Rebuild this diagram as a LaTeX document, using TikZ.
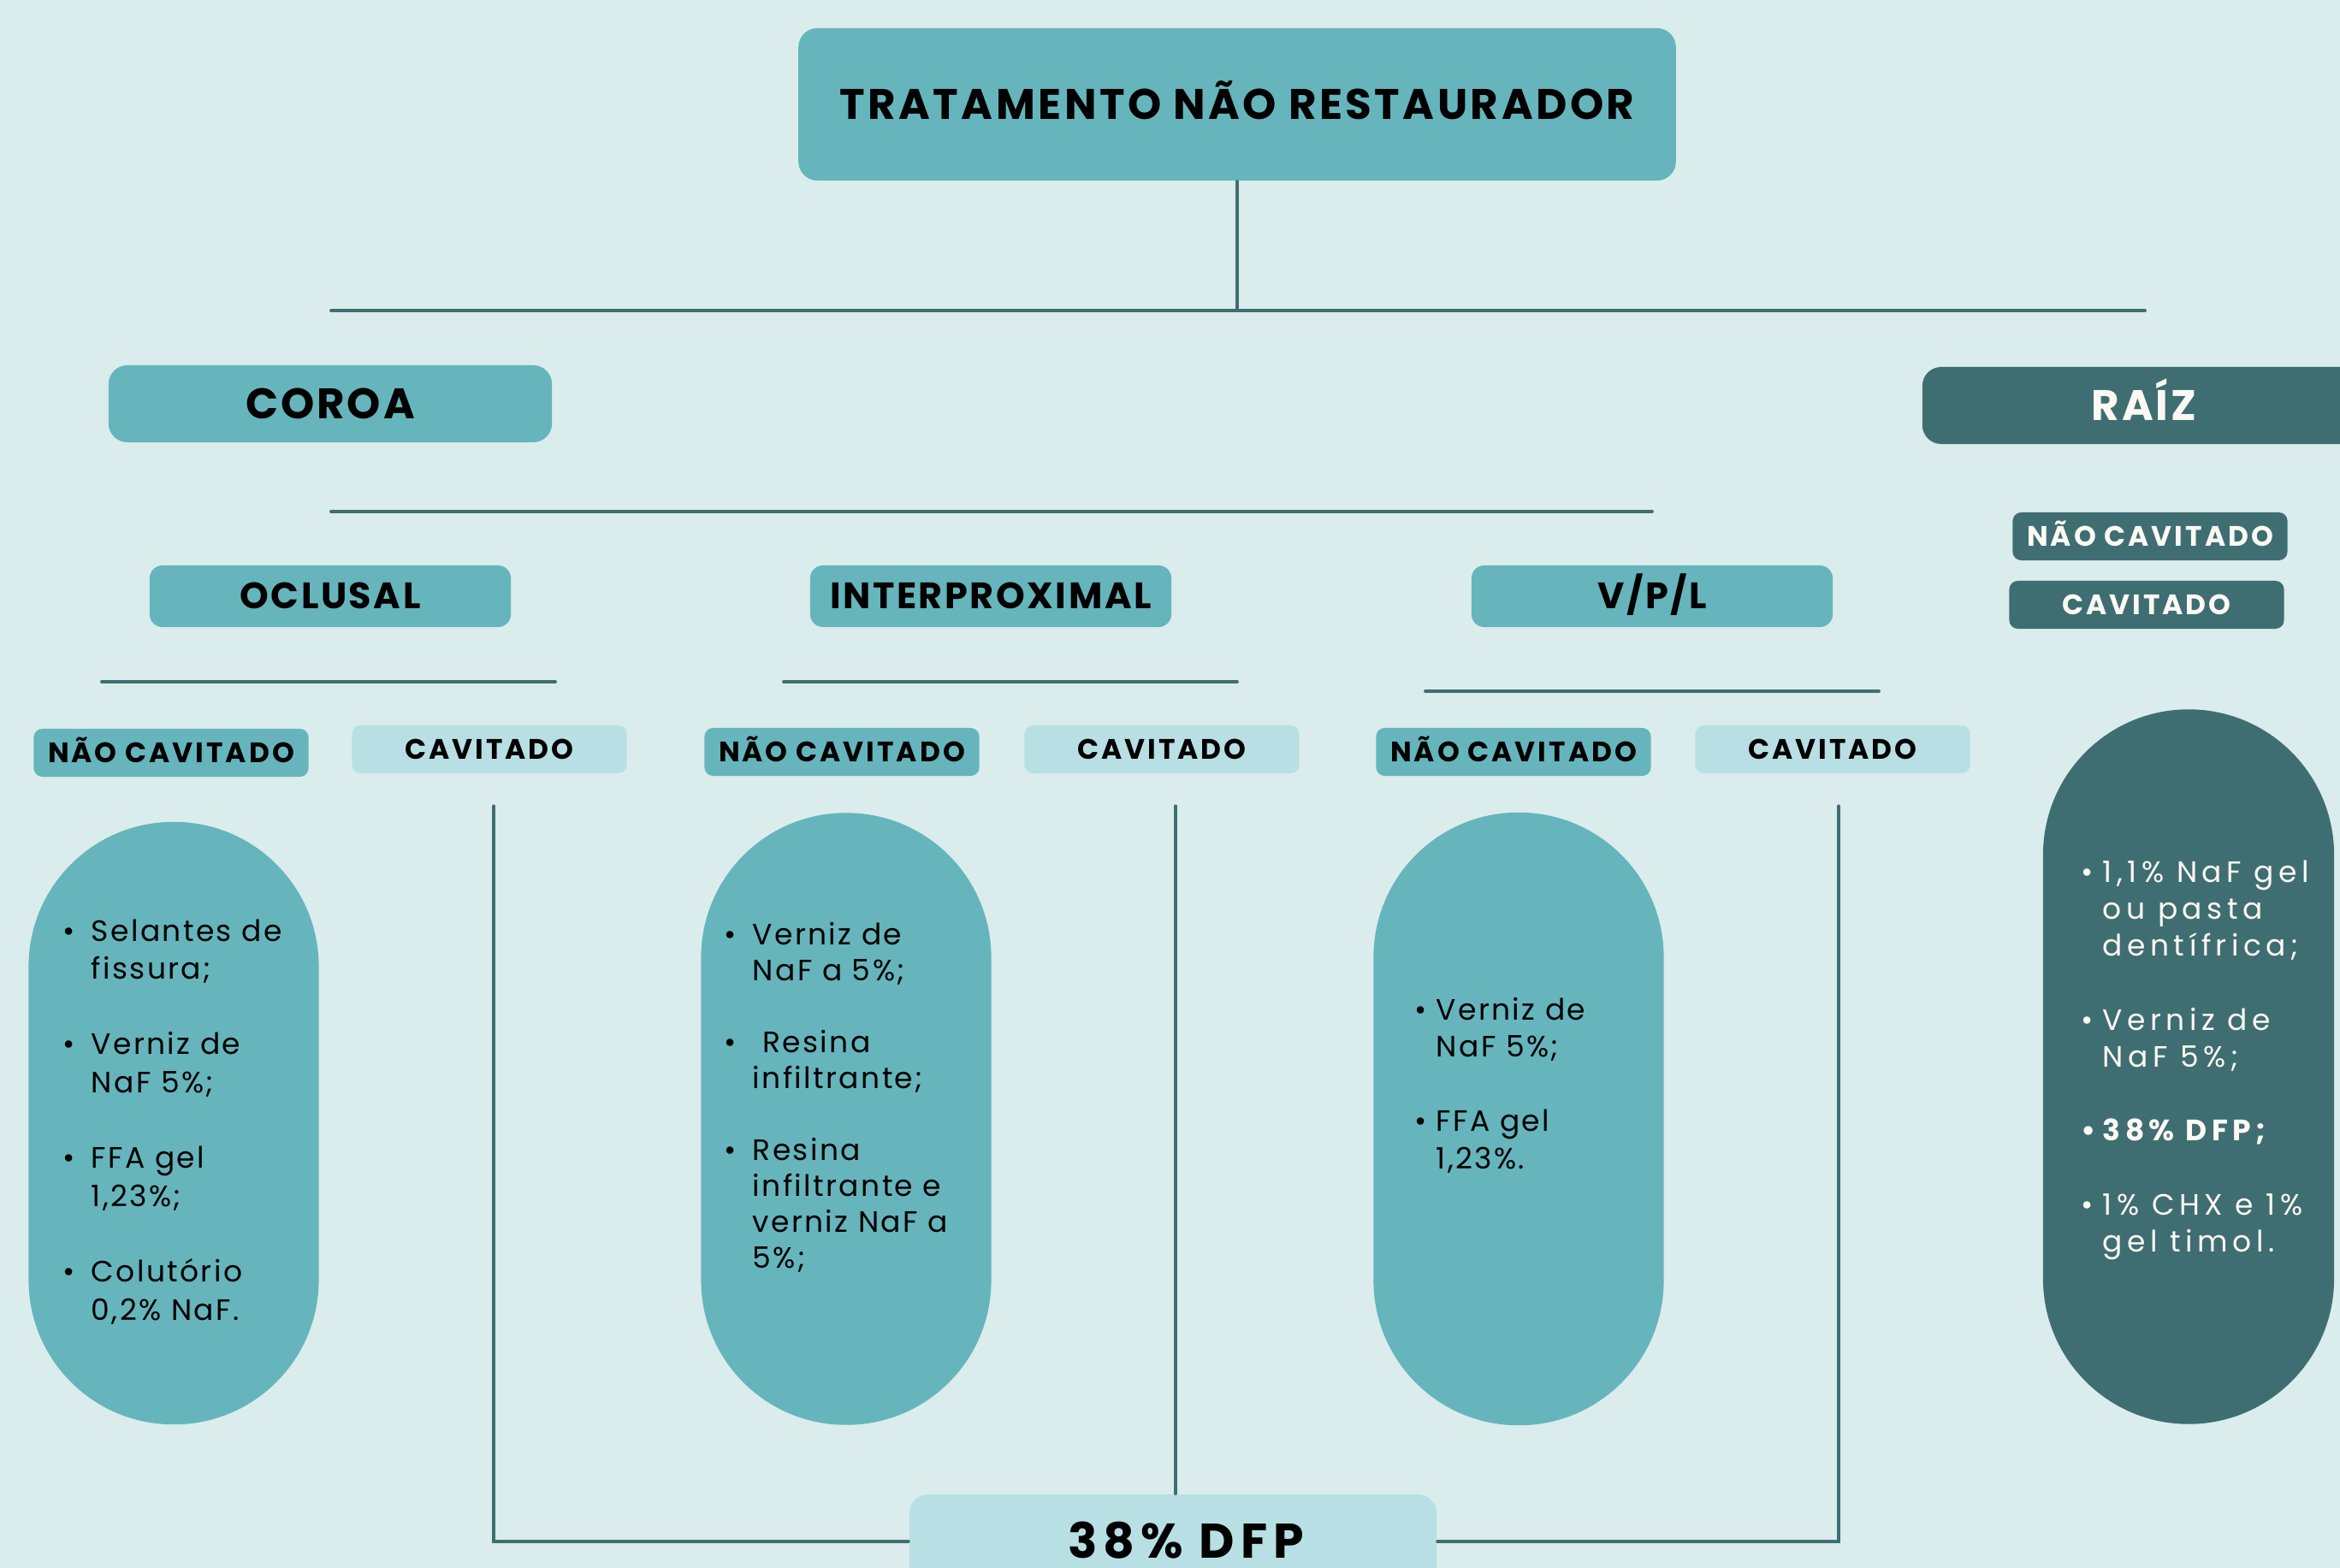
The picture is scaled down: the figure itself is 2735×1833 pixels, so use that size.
\documentclass[tikz,border=0pt]{standalone}
\usepackage{fontspec}
\setmainfont{Poppins}
\newfontfamily\headfont[LetterSpace=6]{Poppins}
\newfontfamily\titlefont[LetterSpace=7]{Poppins}
\newfontfamily\tagfont[LetterSpace=9]{Poppins}
\newfontfamily\dfpfont[LetterSpace=12]{Poppins}
\newfontfamily\listfont[LetterSpace=7]{Poppins}
\newfontfamily\widelistfont[LetterSpace=16]{Poppins}
\usetikzlibrary{calc}

\begin{document}
\begin{tikzpicture}
	[x=0.01cm,y=-0.01cm,line cap=round,
	%Styles
	link/.style={draw=darkteal,line width=1.1pt},
	drop/.style={draw=darkteal,line width=0.9pt},
	headbox/.style={rectangle,rounded corners=0.22cm,fill=midteal,inner sep=0pt,text=black,text height=9.9pt,text depth=0pt,font=\headfont\bfseries\fontsize{14.2pt}{17pt}\selectfont},
	subbox/.style={headbox,rounded corners=0.15cm,minimum width=4.22cm,minimum height=0.72cm,text height=8.5pt,font=\headfont\bfseries\fontsize{12.2pt}{14pt}\selectfont},
	tag/.style={rectangle,rounded corners=0.1cm,fill=midteal,inner sep=0pt,text=black,text height=6.5pt,text depth=0pt,minimum width=3.21cm,minimum height=0.56cm,font=\tagfont\bfseries\fontsize{9.35pt}{11pt}\selectfont},
	open tag/.style={tag,fill=lightteal},
	root tag/.style={tag,fill=darkteal,text=paper},
	pill/.style={rectangle,rounded corners=1.69cm,fill=midteal,minimum width=3.39cm,inner sep=0pt},
	items/.style={anchor=base west,inner sep=0pt,text=black,font=\listfont\fontsize{9.8pt}{#1}\selectfont},
	items/.default=12.4pt
	]
	
	%Colors
	\definecolor{paperbg}{HTML}{DBECEC}
	\definecolor{midteal}{HTML}{66B5BC}
	\definecolor{darkteal}{HTML}{3F6E72}
	\definecolor{lightteal}{HTML}{B8E0E4}
	\definecolor{paper}{HTML}{FCF8F3}
	
	\useasboundingbox (0,0) rectangle (2735,1833);
	\fill[paperbg] (0,0) rectangle (2735,1833);
	
	%The graphic
	\node[headbox,minimum width=10.25cm,minimum height=1.78cm,font=\titlefont\bfseries\fontsize{14.2pt}{17pt}\selectfont] (title) at (1446,122) {TRATAMENTO NÃO RESTAURADOR};
	\node[headbox,minimum width=5.18cm,minimum height=0.9cm] (coroa) at (386,472) {COROA};
	\node[headbox,fill=darkteal,text=paper,minimum width=5.18cm,minimum height=0.9cm] (raiz) at (2506,474) {RAÍZ};
	
	\coordinate (bar1 w) at (387,363);
	\coordinate (bar1 e) at (2507,363);
	\draw[link] (bar1 w) -- (bar1 e);
	\draw[drop] (title.south) -- (title.south |- bar1 w);
	
	\coordinate (bar2 w) at (387,598);
	\coordinate (bar2 e) at (1931,598);
	\draw[link] (bar2 w) -- (bar2 e);
	
	\node[subbox] (oclusal) at (386,697) {OCLUSAL};
	\node[subbox] (inter) at (1158,697) {INTERPROXIMAL};
	\node[subbox] (vpl) at (1931,697) {V/P/L};
	
	\draw[link] (119,797) coordinate (ocl bar w) -- (649,797) coordinate (ocl bar e);
	\draw[link] (916,797) coordinate (int bar w) -- (1446,797) coordinate (int bar e);
	\draw[link] (1666,808) coordinate (vpl bar w) -- (2196,808) coordinate (vpl bar e);
	
	\node[tag] (ocl nc) at (200,880) {NÃO CAVITADO};
	\node[open tag] (ocl cav) at (572,876) {CAVITADO};
	\node[tag] (int nc) at (984,879) {NÃO CAVITADO};
	\node[open tag] (int cav) at (1358,876) {CAVITADO};
	\node[tag] (vpl nc) at (1769,879) {NÃO CAVITADO};
	\node[open tag] (vpl cav) at (2142,876) {CAVITADO};
	\node[root tag] (raiz nc) at (2513,627) {NÃO CAVITADO};
	\node[root tag] (raiz cav) at (2509,707) {CAVITADO};
	
	%pills
	\node[pill,minimum height=7.04cm] (ocl pill) at (203,1313) {};
	\node[pill,minimum height=7.15cm] (int pill) at (989,1308) {};
	\node[pill,minimum height=7.16cm] (vpl pill) at (1775,1308) {};
	\node[pill,fill=darkteal,minimum width=3.4cm,minimum height=8.35cm,rounded corners=1.7cm] (raiz pill) at (2558,1247) {};
	
	\node[items=12.6pt] (ocl list) at (73,1100) {\begin{tabular}[t]{@{}p{3.3mm}@{}l@{}}
		\textbullet & Selantes de\\ & fissura;\\ & \\
		\textbullet & Verniz de\\ & NaF 5\%;\\ & \\
		\textbullet & FFA gel\\ & 1,23\%;\\ & \\
		\textbullet & Colutório\\ & 0,2\% NaF.
	\end{tabular}};
	\node[items=11.95pt] (int list) at (846,1104) {\begin{tabular}[t]{@{}p{3.3mm}@{}l@{}}
		\textbullet & Verniz de\\ & NaF a 5\%;\\ & \\
		\textbullet & \ Resina\\ & infiltrante;\\ & \\
		\textbullet & Resina\\ & infiltrante e\\ & verniz NaF a\\ & 5\%;
	\end{tabular}};
	\node[items=12.4pt] (vpl list) at (1653,1192) {\begin{tabular}[t]{@{}p{2.5mm}@{}l@{}}
		\textbullet & Verniz de\\ & NaF 5\%;\\ & \\
		\textbullet & FFA gel\\ & 1,23\%.
	\end{tabular}};
	\node[items=12.3pt,text=paper,font=\widelistfont\fontsize{9.8pt}{12.3pt}\selectfont] (raiz list) at (2432,1031) {\begin{tabular}[t]{@{}p{2.5mm}@{}l@{}}
		\textbullet & 1,1\% NaF gel\\ & ou pasta\\ & dentífrica;\\ & \\
		\textbullet & Verniz de\\ & NaF 5\%;\\ & \\
		\textbf{\textbullet} & \textbf{38\% DFP;}\\ & \\
		\textbullet & 1\% CHX e 1\%\\ & gel timol.
	\end{tabular}};
	
	%bottom
	\node[headbox,fill=lightteal,minimum width=6.16cm,minimum height=1.1cm,text height=11.3pt,font=\dfpfont\bfseries\fontsize{16.2pt}{19pt}\selectfont] (dfp) at (1371,1802) {\hspace*{0.3cm}38\% DFP};
	\coordinate (ocl drop) at (577,942);
	\coordinate (int drop) at (1374,942);
	\coordinate (vpl drop) at (2149,942);
	\draw[drop] (ocl drop) |- (dfp.west);
	\draw[drop] (vpl drop) |- (dfp.east);
	\draw[drop] (int drop) -- (int drop |- dfp.north);
\end{tikzpicture}
\end{document}
